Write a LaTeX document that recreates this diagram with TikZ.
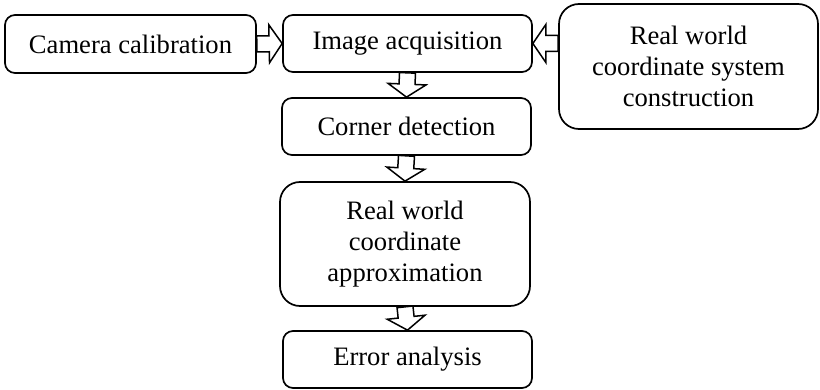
\documentclass[tikz,border=0pt]{standalone}
\usepackage{fontspec}
\setmainfont{Liberation Serif}
\usetikzlibrary{calc}
\tikzset{
  box/.style={draw, line width=1.7pt, rounded corners=10pt, align=center,
    font=\fontsize{26.6}{31}\selectfont, inner sep=0pt},
  bigbox/.style={box, rounded corners=20pt},
  blk/.style={draw, line width=1.5pt, fill=white, line join=miter}
}
\newcommand\blockarrow[2]{%
  \coordinate (ba-h) at ($(#2)!13pt!(#1)$);
  \draw[blk] ($(#1)!8pt!90:(#2)$) -- ($(ba-h)!8pt!90:(#2)$) -- ($(ba-h)!19pt!90:(#2)$)
    -- (#2) -- ($(ba-h)!19pt!-90:(#2)$) -- ($(ba-h)!8pt!-90:(#2)$)
    -- ($(#1)!8pt!-90:(#2)$) -- cycle;
}
\begin{document}
\begin{tikzpicture}[x=1pt, y=-1pt]
\useasboundingbox[fill=white] (0,0) rectangle (820,390);
\node[box, minimum width=251pt, minimum height=58pt] (b1) at (130.5,44) {Camera calibration};
\node[box, minimum width=249pt, minimum height=57pt] (b2) at (407.5,43.5) {Image acquisition};
\node[bigbox, minimum width=259pt, minimum height=125pt] (b3) at (688.5,66.5) {Real world\\coordinate system\\construction};
\node[box, minimum width=249pt, minimum height=57pt] (b4) at (406.5,126.5) {Corner detection};
\node[bigbox, minimum width=250pt, minimum height=124pt] (b5) at (405,244) {Real world\\coordinate\\approximation};
\node[box, minimum width=249pt, minimum height=57pt] (b6) at (407.5,359.5) {Error analysis};
\coordinate (t3) at (b3.west |- b2.east);
\blockarrow{b1.east}{b2.west}
\blockarrow{t3}{b2.east}
\blockarrow{b2.south}{b4.north}
\blockarrow{b4.south}{b5.north}
\blockarrow{b5.south}{b6.north}
\end{tikzpicture}
\end{document}
